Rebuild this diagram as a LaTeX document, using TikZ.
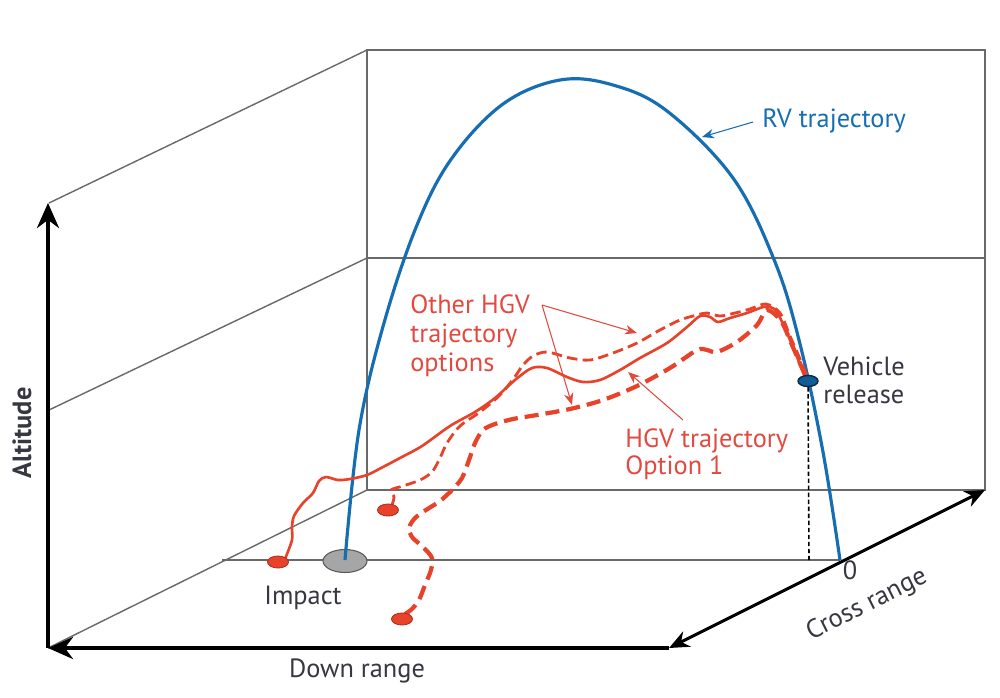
\documentclass[tikz,border=0pt]{standalone}
\usepackage{fontspec}
\setmainfont{PT Sans}
\usetikzlibrary{arrows.meta,shapes.geometric}
\definecolor{RVBlue}{RGB}{22,110,178}
\definecolor{HGVRed}{RGB}{232,66,42}
\definecolor{HGVText}{RGB}{226,74,64}
\definecolor{WallGray}{RGB}{105,105,105}
\definecolor{LabelGray}{RGB}{55,55,65}

\begin{document}
\begin{tikzpicture}[x=0.02cm,y=-0.02cm,wall/.style={draw=WallGray,line width=0.8pt},axis/.style={line width=2.2pt,-{Stealth[length=5mm,width=4.4mm]}},rv/.style={draw=RVBlue,line width=1.8pt},hgv/.style={draw=HGVRed,line width=1.5pt,line join=round},hgvdash/.style={hgv,line width=1.6pt,dash pattern=on 6pt off 3pt},hgvthick/.style={hgv,line width=2.4pt,dash pattern=on 8pt off 4pt},note/.style={-{Stealth[length=2.4mm,width=1.9mm]},line width=0.6pt},lbl/.style={font=\fontsize{15}{16.5}\selectfont,text=LabelGray,inner sep=0pt,align=left},dot/.style={ellipse,fill=HGVRed,draw=HGVRed!75!black,line width=0.5pt,minimum width=0.42cm,minimum height=0.24cm,inner sep=0pt}]
\useasboundingbox[fill=white] (0,0) rectangle (1000,697);

% frame of the box
\coordinate (btl) at (367,50);
\coordinate (btr) at (985,50);
\coordinate (bml) at (367,258);
\coordinate (bmr) at (985,258);
\coordinate (bbl) at (367,490);
\coordinate (bbr) at (985,490);
\coordinate (o) at (48,648);
\coordinate (ftl) at (222,560);
\coordinate (ftr) at (840,560);
\draw[wall] (btl) -- (btr) -- (bbr) -- (bbl) -- cycle;
\draw[wall] (bml) -- (bmr);
\draw[wall] (btl) -- (49,203);
\draw[wall] (bml) -- (49,410);
\draw[wall] (bbl) -- (o);
\draw[wall] (ftl) -- (ftr);

% axes
\coordinate (alt) at (48,203);
\coordinate (dr) at (669,648);
\draw[axis] (o) -- (alt);
\draw[axis] (dr) -- (o);
\draw[line width=1.7pt,{Stealth[length=4mm,width=3.4mm]}-{Stealth[length=4mm,width=3.4mm]}] (dr) -- (bbr);

% RV trajectory
\node[ellipse,fill=black!35,draw=black!65,line width=0.6pt,minimum width=0.88cm,minimum height=0.46cm,inner sep=0pt] (imp) at (345,561) {};
\draw[rv] plot[smooth,tension=0.6] coordinates {(345,560) (359,430) (384,323) (417,225) (452,158) (503,104) (560,80) (613,85) (667,111) (733,178) (775,262) (800,344) (823,452) (840,560)};

% HGV trajectories
\draw[hgv] plot[smooth,tension=0.5] coordinates {(285,559) (292,540) (292,527) (294,516) (303,503) (313,493) (319,481) (326,477) (338,480) (350,479) (367,475) (383,467) (400,458) (422,446) (450,426) (475,412) (495,398) (515,380) (532,368) (547,368) (567,377) (583,382) (600,380) (620,370) (640,358) (667,343) (687,327) (700,316) (710,317) (718,322) (730,318) (747,313) (763,307) (770,307) (777,312) (787,333) (797,357) (806,380)};
\draw[hgvdash] plot[smooth,tension=0.5] coordinates {(392,505) (394,497) (391,490) (403,486) (420,480) (432,472) (440,458) (447,443) (460,426) (480,412) (500,395) (514,378) (523,365) (533,356) (547,352) (570,358) (590,360) (613,353) (637,343) (660,330) (680,320) (697,315) (707,313) (720,316) (735,313) (750,309) (766,304) (780,313) (790,336) (800,359) (808,378)};
\draw[hgvthick] plot[smooth,tension=0.5] coordinates {(405,614) (412,609) (419,600) (425,585) (431,570) (432,558) (424,548) (412,537) (409,528) (415,518) (426,510) (440,501) (452,490) (462,478) (469,460) (475,443) (483,430) (495,424) (513,419) (537,415) (570,409) (603,400) (637,386) (670,368) (697,350) (707,350) (717,352) (737,342) (757,325) (767,310) (781,321) (792,345) (802,368) (808,380)};

% end points
\node[dot] (d1) at (278,562) {};
\node[dot] (d2) at (388,510) {};
\node[dot] (d3) at (402,619) {};
\coordinate (relfoot) at (809,560);
\node[ellipse,fill=RVBlue!85!black,draw=RVBlue!40!black,line width=0.8pt,minimum width=0.4cm,minimum height=0.22cm,inner sep=0pt] (rel) at (808,381) {};
\draw[line width=0.9pt,dash pattern=on 2.5pt off 1.5pt] (rel) -- (relfoot);

% labels
\node[lbl,text=RVBlue,anchor=base west] (rvlbl) at (762,127) {RV trajectory};
\node[lbl,text=HGVText,anchor=north west] (oth) at (410,294) {Other HGV\\trajectory\\options};
\node[lbl,text=HGVText,anchor=north west,font=\fontsize{15}{15.3}\selectfont] (opt) at (625,428) {HGV trajectory\\Option 1};
\node[lbl,anchor=north west,font=\fontsize{15}{16}\selectfont] (vrl) at (823,356) {Vehicle\\release};
\node[lbl,anchor=base] (implbl) at (303,604) {Impact};
\node[lbl,anchor=base] (zero) at (850,579) {0};
\node[lbl,rotate=26.5] (crlbl) at (867,605) {Cross range};
\node[lbl,anchor=base] (drlbl) at (357,677) {Down range};
\node[lbl,rotate=90,font=\bfseries\fontsize{15}{16}\selectfont] (altlbl) at (22,433) {Altitude};

% pointers
\coordinate (rvfrom) at (753,122);
\coordinate (rvto) at (702,137);
\coordinate (othfrom) at (542,305);
\coordinate (otha) at (637,333);
\coordinate (othb) at (572,405);
\coordinate (optfrom) at (683,420);
\coordinate (optto) at (628,372);
\draw[note,RVBlue] (rvfrom) -- (rvto);
\draw[note,HGVText] (othfrom) -- (otha);
\draw[note,HGVText] (othfrom) -- (othb);
\draw[note,HGVText] (optfrom) -- (optto);
\end{tikzpicture}
\end{document}
